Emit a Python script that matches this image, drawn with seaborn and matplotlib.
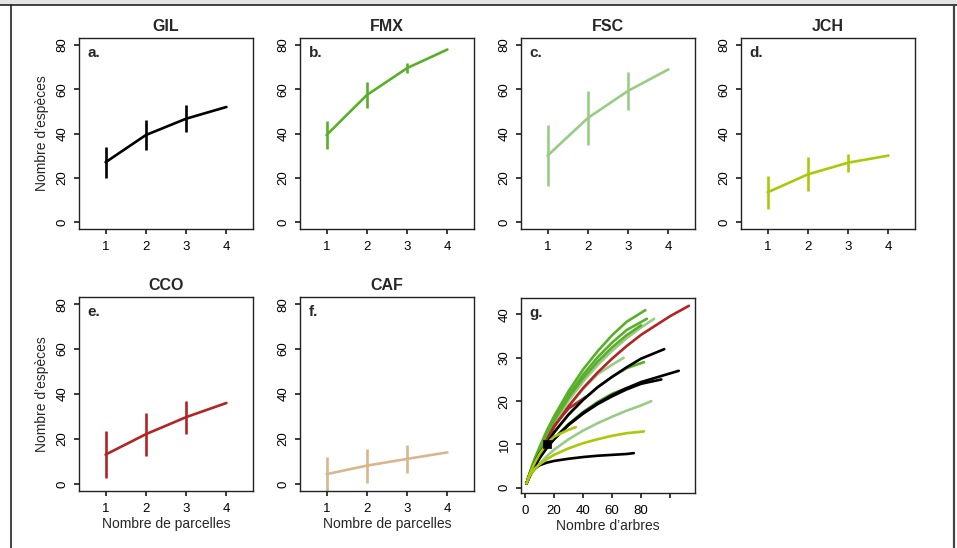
import matplotlib

matplotlib.use("Agg", force=True)
import matplotlib.pyplot as plt
import pandas as pd
import seaborn as sns
from matplotlib.lines import Line2D
from matplotlib.patches import Rectangle

# --- species accumulation per number of plots (panels a-f) ---
sites = ["GIL", "FMX", "FSC", "JCH", "CCO", "CAF"]
letters = ["a.", "b.", "c.", "d.", "e.", "f."]
plots = [1, 2, 3, 4]
mean_gil = [27, 39.3, 46.7, 52]
sd_gil = [7, 6.7, 6, 0]
mean_fmx = [39.3, 57.4, 69.6, 78]
sd_fmx = [6.4, 6, 2.4, 0]
mean_fsc = [30, 47, 59.3, 69]
sd_fsc = [13.8, 12.2, 8.5, 0]
mean_jch = [13.4, 21.5, 26.8, 30]
sd_jch = [7.5, 7.7, 4, 0]
mean_cco = [13, 22.1, 29.7, 36]
sd_cco = [10.4, 9.6, 7.4, 0]
mean_caf = [4.3, 8.1, 11.1, 14]
sd_caf = [7.7, 7.6, 6.4, 0]

site_colors = {
    "GIL": "#000000",
    "FMX": "#5aaf2a",
    "FSC": "#98cc86",
    "JCH": "#abc80a",
    "CCO": "#b22525",
    "CAF": "#d6b88c",
}

# --- rarefaction curves per plot (panel g): site, trees, species ---
g_site = ["FSC", "FSC", "FSC", "CCO", "CCO", "CCO", "FMX", "FMX", "FMX", "FMX", "FMX",
          "GIL", "GIL", "GIL", "GIL", "JCH", "JCH", "GIL"]
g_trees = [
    [1, 3, 5, 7, 10, 15, 20, 30, 40, 50, 60, 70, 80, 89],
    [1, 3, 5, 7, 10, 15, 20, 30, 40, 50, 60, 68],
    [1, 3, 5, 7, 10, 15, 20, 30, 40, 50, 60, 70, 80, 87],
    [1, 3, 5, 7, 10, 15, 20, 30, 40, 50, 60, 70, 80, 100, 113],
    [1, 3, 5, 7, 10, 15, 20, 30, 42],
    [1, 2, 3],
    [1, 3, 5, 7, 10, 15, 20, 30, 40, 50, 60, 70, 83],
    [1, 3, 5, 7, 10, 15, 20, 30, 40, 50, 60, 70, 84],
    [1, 3, 5, 7, 10, 15, 20, 30, 40, 50, 60, 70, 80],
    [1, 3, 5, 7, 10, 15, 20, 30, 40, 50, 60, 70, 82],
    [1, 3, 5, 7, 10, 15, 20, 30, 40, 50, 60, 70],
    [1, 3, 5, 7, 10, 15, 20, 30, 40, 50, 60, 70, 80, 96],
    [1, 3, 5, 7, 10, 15, 20, 30, 40, 50, 60, 70, 80, 106],
    [1, 3, 5, 7, 10, 15, 20, 30, 40, 50, 60, 70, 80, 94],
    [1, 3, 5, 7, 10, 15, 20, 30, 40, 50, 60, 70, 75],
    [1, 3, 5, 7, 10, 15, 20, 30, 40, 50, 60, 70, 82],
    [1, 3, 5, 7, 10, 15, 20, 30, 35],
    [1, 3, 5, 7, 10, 15],
]
g_species = [
    [1, 3, 4.7, 6.3, 8.6, 11.9, 14.9, 20.1, 24.5, 28.3, 31.6, 34.5, 37, 39],
    [1, 3, 4.6, 6.1, 8.3, 11.5, 14.2, 18.9, 22.8, 26.2, 28.4, 30],
    [1, 2.4, 3.5, 4.4, 5.6, 7.3, 8.8, 11.2, 13.2, 14.9, 16.4, 17.8, 19, 20],
    [1, 2.9, 4.5, 6, 8.1, 11.2, 14, 18.8, 23, 26.6, 29.8, 32.7, 35.3, 39.6, 42],
    [1, 3, 4.7, 6.2, 8.4, 11.6, 14.3, 18.3, 21],
    [1, 2, 2.5],
    [1, 3.2, 5.2, 7, 9.4, 13.2, 16.5, 22.3, 27.3, 31.5, 35.2, 38.3, 41],
    [1, 3.1, 5, 6.8, 9.1, 12.7, 15.9, 21.4, 26.1, 30.1, 33.5, 36.4, 39],
    [1, 3, 4.9, 6.6, 8.9, 12.4, 15.5, 20.8, 25.3, 29.1, 32.4, 35.2, 37.5],
    [1, 2.7, 4.2, 5.6, 7.5, 10.3, 12.8, 16.9, 20.3, 23.2, 25.6, 27.6, 29],
    [1, 2.6, 4, 5.2, 6.9, 9.3, 11.3, 14.7, 17.5, 19.8, 21.7, 23],
    [1, 2.7, 4.2, 5.6, 7.5, 10.3, 12.8, 16.9, 20.3, 23.2, 25.6, 27.8, 29.8, 32],
    [1, 2.6, 4, 5.2, 6.9, 9.3, 11.3, 14.6, 17.3, 19.5, 21.4, 23, 24.4, 27],
    [1, 2.6, 4, 5.2, 6.9, 9.2, 11.2, 14.5, 17.1, 19.3, 21.1, 22.7, 24, 25],
    [1, 2.7, 3.8, 4.5, 5.2, 5.8, 6.2, 6.7, 7.1, 7.4, 7.6, 7.8, 8],
    [1, 2.6, 3.7, 4.5, 5.4, 6.6, 7.6, 9.1, 10.3, 11.2, 12, 12.6, 13],
    [1, 3, 4.6, 6, 7.8, 10.2, 11.8, 13.4, 14],
    [1, 3, 4.6, 6.1, 8, 10],
]
g_square_x = [15]
g_square_y = [10]


def set_style() -> None:
    sns.set_theme(style="ticks", context="notebook")
    plt.rcParams["font.family"] = ["Liberation Sans", "DejaVu Sans"]
    plt.rcParams["axes.edgecolor"] = "#222222"
    plt.rcParams["axes.linewidth"] = 1.0
    plt.rcParams["xtick.major.size"] = 3.5
    plt.rcParams["ytick.major.size"] = 3.5
    plt.rcParams["xtick.major.pad"] = 5
    plt.rcParams["ytick.major.pad"] = 4
    plt.rcParams["xtick.labelsize"] = 9.5
    plt.rcParams["ytick.labelsize"] = 9.5


def style_axis(ax) -> None:
    for side in ["top", "right", "left", "bottom"]:
        ax.spines[side].set_visible(True)
    for lab in ax.get_yticklabels():
        lab.set_rotation(90)
        lab.set_va("center")
    ax.tick_params(colors="#222222", labelcolor="black")


def site_panel(ax, site, letter, means, sds) -> None:
    df = pd.DataFrame({"plots": plots, "mean": means, "sd": sds})
    color = site_colors[site]
    sns.lineplot(data=df, x="plots", y="mean", ax=ax, color=color, lw=1.9)
    ax.vlines(df["plots"], df["mean"] - df["sd"], df["mean"] + df["sd"], color=color, lw=1.9)
    ax.set_xlim(0.34, 4.66)
    ax.set_ylim(-3.2, 83.2)
    ax.set_xticks(plots)
    ax.set_yticks([0, 20, 40, 60, 80])
    ax.set_xlabel("")
    ax.set_ylabel("")
    ax.set_title(site, fontsize=11.5, weight="bold", pad=5)
    ax.text(0.05, 0.96, letter, transform=ax.transAxes, fontsize=11, weight="bold", va="top", ha="left")
    style_axis(ax)


def main() -> None:
    set_style()
    W, H = 957, 548
    fig = plt.figure(figsize=(W / 100, H / 100), dpi=100)
    fig.patch.set_facecolor("white")

    lefts = [79, 300, 521, 741]
    aw = 174
    top_row = (38, 229)
    bot_row = (297, 491)

    def make_ax(left, row):
        t, b = row
        return fig.add_axes([left / W, 1 - b / H, aw / W, (b - t) / H])

    means = [mean_gil, mean_fmx, mean_fsc, mean_jch, mean_cco, mean_caf]
    sds = [sd_gil, sd_fmx, sd_fsc, sd_jch, sd_cco, sd_caf]
    positions = [(lefts[0], top_row), (lefts[1], top_row), (lefts[2], top_row), (lefts[3], top_row),
                 (lefts[0], bot_row), (lefts[1], bot_row)]
    axes = []
    for site, letter, m, s, pos in zip(sites, letters, means, sds, positions):
        ax = make_ax(*pos)
        site_panel(ax, site, letter, m, s)
        axes.append(ax)

    for i in [0, 4]:
        axes[i].set_ylabel("Nombre d\u2019esp\u00e8ces", fontsize=10)
        axes[i].yaxis.set_label_coords(-0.175, 0.5)
    for i in [4, 5]:
        axes[i].set_xlabel("Nombre de parcelles", fontsize=10)
        axes[i].xaxis.set_label_coords(0.5, -0.135)

    # panel g
    rows = []
    for k, (site, xs, ys) in enumerate(zip(g_site, g_trees, g_species)):
        for x, y in zip(xs, ys):
            rows.append({"curve": k, "site": site, "trees": x, "species": y})
    gdf = pd.DataFrame(rows)
    axg = make_ax(lefts[2], (298, 493))
    sns.lineplot(data=gdf, x="trees", y="species", hue="site", units="curve", estimator=None,
                 palette=site_colors, lw=1.9, sort=False, legend=False, ax=axg)
    sq = pd.DataFrame({"trees": g_square_x, "species": g_square_y})
    sns.scatterplot(data=sq, x="trees", y="species", marker="s", s=40, color="black",
                    edgecolor="black", ax=axg, zorder=5)
    axg.set_xlim(-2.8, 117.2)
    axg.set_ylim(-1.2, 43.8)
    axg.set_xticks([0, 20, 40, 60, 80, 100])
    axg.set_xticklabels(["0", "20", "40", "60", "80", ""])
    axg.set_yticks([0, 10, 20, 30, 40])
    axg.set_ylabel("")
    axg.set_xlabel("Nombre d\u2019arbres", fontsize=10)
    axg.xaxis.set_label_coords(0.5, -0.135)
    axg.text(0.05, 0.96, "g.", transform=axg.transAxes, fontsize=11, weight="bold", va="top", ha="left")
    style_axis(axg)

    # window frame of the screenshot
    fig.add_artist(Rectangle((0, 1 - 4.5 / H), 1, 4.5 / H, transform=fig.transFigure,
                             facecolor="#e4e4e4", edgecolor="none"))
    fig.add_artist(Line2D([0, 1], [1 - 4.5 / H] * 2, transform=fig.transFigure, color="#222222", lw=1.2))
    fig.add_artist(Line2D([10.5 / W] * 2, [0, 1 - 4.5 / H], transform=fig.transFigure, color="#222222", lw=1.2))
    fig.add_artist(Line2D([953.5 / W] * 2, [0, 1 - 4.5 / H], transform=fig.transFigure, color="#444444", lw=1.6))

    fig.savefig("out.png", dpi=100)
    plt.close(fig)


if __name__ == "__main__":
    main()
